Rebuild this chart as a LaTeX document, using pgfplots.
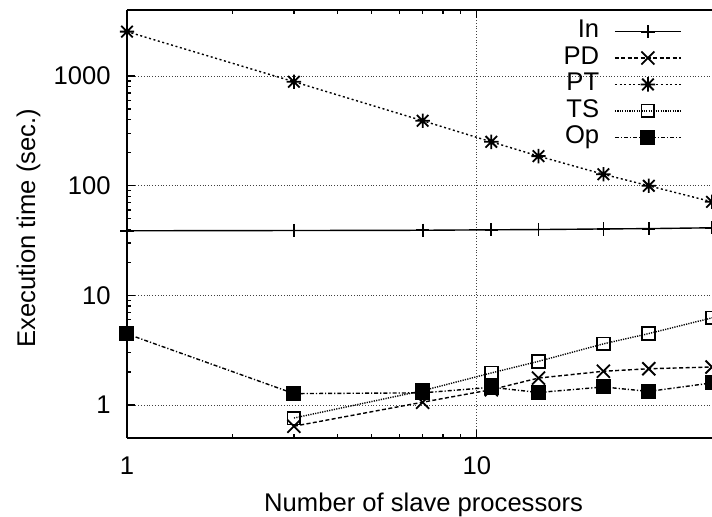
\documentclass[border=0pt,12pt]{standalone}
\usepackage{fontspec}
\setmainfont{Liberation Sans}
\usepackage{pgfplots}
\pgfplotsset{compat=1.18}

\pgfdeclareplotmark{gpstar}{%
  \pgfpathmoveto{\pgfqpoint{\pgfplotmarksize}{0pt}}\pgfpathlineto{\pgfqpoint{-\pgfplotmarksize}{0pt}}%
  \pgfpathmoveto{\pgfqpoint{0pt}{\pgfplotmarksize}}\pgfpathlineto{\pgfqpoint{0pt}{-\pgfplotmarksize}}%
  \pgfpathmoveto{\pgfqpoint{.8\pgfplotmarksize}{.8\pgfplotmarksize}}\pgfpathlineto{\pgfqpoint{-.8\pgfplotmarksize}{-.8\pgfplotmarksize}}%
  \pgfpathmoveto{\pgfqpoint{-.8\pgfplotmarksize}{.8\pgfplotmarksize}}\pgfpathlineto{\pgfqpoint{.8\pgfplotmarksize}{-.8\pgfplotmarksize}}%
  \pgfusepathqstroke}

\begin{document}
\begin{tikzpicture}[font=\fontsize{12.8}{15}\selectfont]
\begin{axis}[
  scale only axis, width=292.5pt, height=214pt,
  xmode=log, ymode=log,
  xmin=1, xmax=47, ymin=0.5, ymax=4000,
  axis y line*=left,
  xtick={1,10}, xticklabels={1,10},
  ytick={1,10,100,1000}, yticklabels={1,10,100,1000},
  tick label style={font=\fontsize{12.8}{15}\selectfont},
  xticklabel style={yshift=-5pt},
  yticklabel style={xshift=-4pt},
  tick align=inside,
  major tick length=4pt, minor tick length=2pt,
  every tick/.style={black, line width=0.6pt},
  axis line style={line width=1pt},
  grid=major,
  major grid style={densely dotted, black!75, line width=0.45pt},
  xlabel={Number of slave processors},
  ylabel={Execution time (sec.)},
  label style={font=\fontsize{12.8}{15}\selectfont},
  every axis x label/.style={at={(axis description cs:0.507,-0.1706)}, anchor=base},
  every axis y label/.style={at={(axis description cs:-0.157,0.49)}, rotate=90, anchor=base},
  legend style={draw=none, fill=none, at={(axis description cs:1,1)}, anchor=north east,
    xshift=-12pt, yshift=-2pt, legend cell align=right, row sep=0pt, column sep=7pt,
    font=\fontsize{12.8}{15}\selectfont,
    nodes={inner sep=0.5pt, text height=9.2pt, text depth=3pt}},
  legend plot pos=right,
  legend image code/.code={\draw[mark repeat=2,mark phase=2,#1] plot coordinates {(0pt,0pt) (16.5pt,0pt) (33pt,0pt)};},
  every axis plot/.append style={black, line width=0.7pt, mark options={solid, line width=0.9pt}},
]
\coordinate (ll) at (rel axis cs:0,0);
\coordinate (ur) at (rel axis cs:1,1);

\addplot[solid, mark=+, mark size=3.3pt] coordinates {
(1,38.8) (3,39.0) (7,39.2) (11,39.6) (15,39.8) (23,40.3) (31,40.6) (47,41.3)};
\addlegendentry{In}

\addplot[dash pattern=on 2pt off 1.2pt, mark=x, mark size=4.6pt] coordinates {
(3,0.64) (7,1.06) (11,1.38) (15,1.76) (23,2.03) (31,2.14) (47,2.22)};
\addlegendentry{PD}

\addplot[dash pattern=on 1pt off 1.3pt, mark=gpstar, mark size=3.6pt] coordinates {
(1,2540) (3,887) (7,391) (11,251) (15,186) (23,127) (31,99.8) (47,71.3)};
\addlegendentry{PT}

\addplot[dash pattern=on 0.6pt off 0.6pt, mark=square, mark size=3.2pt] coordinates {
(3,0.76) (7,1.35) (11,1.96) (15,2.5) (23,3.61) (31,4.48) (47,6.23)};
\addlegendentry{TS}

\addplot[dash pattern=on 2pt off 1pt on 0.6pt off 1pt, mark=square*, mark size=3.3pt] coordinates {
(1,4.45) (3,1.27) (7,1.29) (11,1.45) (15,1.30) (23,1.46) (31,1.33) (47,1.59)};
\addlegendentry{Op}
\end{axis}
\pgfresetboundingbox
\path[use as bounding box] ([shift={(-63.5pt,-39.5pt)}]ll) rectangle ([shift={(0pt,5pt)}]ur);
\end{tikzpicture}
\end{document}
